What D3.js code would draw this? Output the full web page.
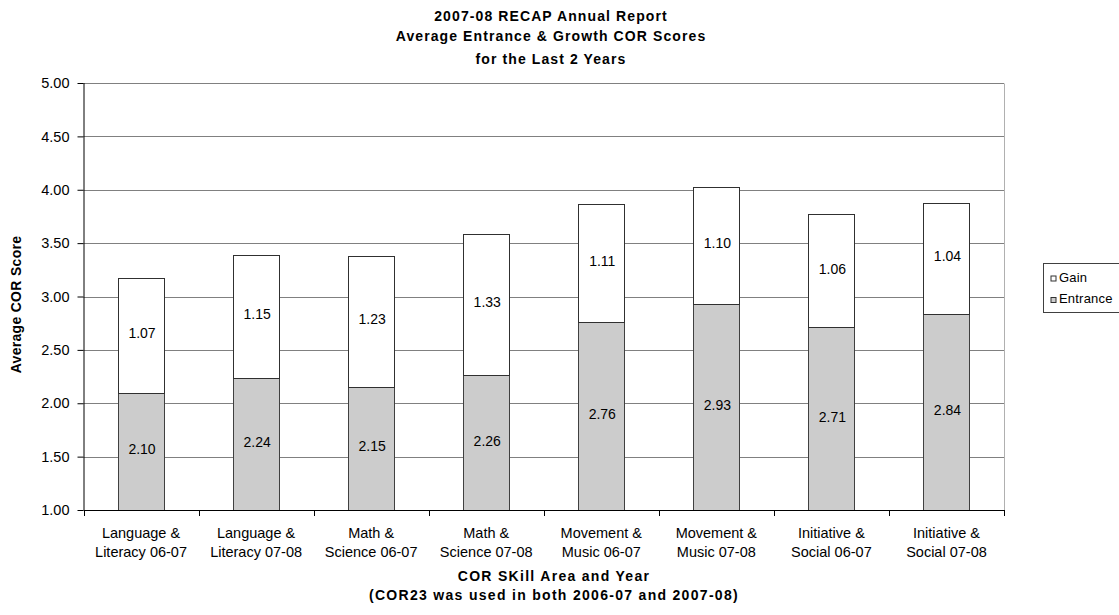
<!DOCTYPE html>
<html>
<head>
<meta charset="utf-8">
<script src="https://cdn.jsdelivr.net/npm/d3@7"></script>
<style>
  html, body { margin: 0; padding: 0; background: #fff; }
  svg { display: block; font-family: "Liberation Sans", Arial, sans-serif; }
</style>
</head>
<body>
<svg id="chart" width="1119" height="615"></svg>
<script>
// Skill areas by year, split into the two label lines shown under each bar
const categoryLine1 = ["Language &", "Language &", "Math &", "Math &", "Movement &", "Movement &", "Initiative &", "Initiative &"];
const categoryLine2 = ["Literacy 06-07", "Literacy 07-08", "Science 06-07", "Science 07-08", "Music 06-07", "Music 07-08", "Social 06-07", "Social 07-08"];
const entrance = [2.10, 2.24, 2.15, 2.26, 2.76, 2.93, 2.71, 2.84];
const gain = [1.07, 1.15, 1.23, 1.33, 1.11, 1.10, 1.06, 1.04];
const yTicks = [1.00, 1.50, 2.00, 2.50, 3.00, 3.50, 4.00, 4.50, 5.00];
const seriesNames = ["Gain", "Entrance"];
const titleLines = ["2007-08 RECAP Annual Report", "Average Entrance & Growth COR Scores", "for the Last 2 Years"];
const xTitleLines = ["COR SKill Area and Year", "(COR23 was used in both 2006-07 and 2007-08)"];
const yTitle = "Average COR Score";

const svg = d3.select("#chart");
const plot = { left: 83.5, right: 1004, top: 83, bottom: 510 };

const idx = d3.range(entrance.length);
const x = d3.scaleBand()
  .domain(idx)
  .range([plot.left, plot.right])
  .paddingInner(0.6)
  .paddingOuter(0.3);
const step = x.step();
const y = d3.scaleLinear().domain([1, 5]).range([plot.bottom, plot.top]);

const fillColor = { Gain: "#ffffff", Entrance: "#cccccc" };

// Horizontal gridlines
svg.append("g")
  .selectAll("line")
  .data(yTicks.slice(1))
  .join("line")
  .attr("x1", plot.left).attr("x2", plot.right)
  .attr("y1", d => Math.round(y(d)) + 0.5).attr("y2", d => Math.round(y(d)) + 0.5)
  .attr("stroke", "#808080").attr("stroke-width", 1);

// Right edge of the plot area
svg.append("line")
  .attr("x1", plot.right + 0.5).attr("x2", plot.right + 0.5)
  .attr("y1", Math.round(y(5)) + 0.5).attr("y2", plot.bottom)
  .attr("stroke", "#b0b0b0");

// Stacked bars: entrance from the axis floor, gain on top
const bars = svg.append("g");
bars.selectAll("rect.entrance")
  .data(idx)
  .join("rect")
  .attr("class", "entrance")
  .attr("x", i => Math.round(x(i)) + 0.5)
  .attr("width", Math.round(x.bandwidth()))
  .attr("y", i => Math.round(y(entrance[i])) + 0.5)
  .attr("height", i => Math.round(y(1)) - Math.round(y(entrance[i])))
  .attr("fill", fillColor.Entrance)
  .attr("stroke", "#404040");

bars.selectAll("rect.gain")
  .data(idx)
  .join("rect")
  .attr("class", "gain")
  .attr("x", i => Math.round(x(i)) + 0.5)
  .attr("width", Math.round(x.bandwidth()))
  .attr("y", i => Math.round(y(entrance[i] + gain[i])) + 0.5)
  .attr("height", i => Math.round(y(entrance[i])) - Math.round(y(entrance[i] + gain[i])))
  .attr("fill", fillColor.Gain)
  .attr("stroke", "#303030");

// Value labels in the middle of each segment
const labels = svg.append("g")
  .attr("font-size", 14)
  .attr("fill", "#000")
  .attr("text-anchor", "middle");
labels.selectAll("text.e")
  .data(idx)
  .join("text")
  .attr("x", i => x(i) + x.bandwidth() / 2 + 1)
  .attr("y", i => y((1 + entrance[i]) / 2))
  .attr("dy", "0.2em")
  .text(i => entrance[i].toFixed(2));
labels.selectAll("text.g")
  .data(idx)
  .join("text")
  .attr("x", i => x(i) + x.bandwidth() / 2 + 1)
  .attr("y", i => y(entrance[i] + gain[i] / 2))
  .attr("dy", "0.2em")
  .text(i => gain[i].toFixed(2));

// Y axis
const yAxis = svg.append("g")
  .attr("transform", `translate(${plot.left},0)`)
  .call(d3.axisLeft(y).tickValues(yTicks).tickFormat(d3.format(".2f")).tickSize(6).tickPadding(8));
yAxis.select(".domain").attr("stroke", "#000").attr("d", `M0.5,${plot.top}V${plot.bottom}`);
yAxis.selectAll(".tick line").attr("stroke", "#000");
yAxis.selectAll(".tick text")
  .attr("font-size", 14.5)
  .attr("font-family", "Liberation Sans, Arial, sans-serif")
  .attr("fill", "#000");

// X axis: boundary ticks between categories
const xAxisG = svg.append("g");
xAxisG.append("line")
  .attr("x1", plot.left).attr("x2", plot.right + 1)
  .attr("y1", plot.bottom + 0.5).attr("y2", plot.bottom + 0.5)
  .attr("stroke", "#000");
xAxisG.selectAll("line.tick")
  .data(d3.range(entrance.length + 1))
  .join("line")
  .attr("class", "tick")
  .attr("x1", i => Math.round(plot.left + i * step) + 0.5)
  .attr("x2", i => Math.round(plot.left + i * step) + 0.5)
  .attr("y1", plot.bottom).attr("y2", plot.bottom + 6)
  .attr("stroke", "#000");

const catLabels = xAxisG.selectAll("text.cat")
  .data(idx)
  .join("text")
  .attr("class", "cat")
  .attr("text-anchor", "middle")
  .attr("font-size", 14.5)
  .attr("fill", "#000");
catLabels.append("tspan")
  .attr("x", i => x(i) + x.bandwidth() / 2)
  .attr("y", 538)
  .text(i => categoryLine1[i]);
catLabels.append("tspan")
  .attr("x", i => x(i) + x.bandwidth() / 2)
  .attr("y", 557)
  .text(i => categoryLine2[i]);

// Chart title
svg.append("g")
  .attr("text-anchor", "middle")
  .attr("font-weight", "bold")
  .attr("font-size", 14)
  .attr("letter-spacing", "1.1px")
  .selectAll("text")
  .data(titleLines)
  .join("text")
  .attr("x", 551)
  .attr("y", (d, i) => [21, 41, 64][i])
  .text(d => d);

// X axis title
svg.append("g")
  .attr("text-anchor", "middle")
  .attr("font-weight", "bold")
  .attr("font-size", 14)
  .attr("letter-spacing", "1.3px")
  .selectAll("text")
  .data(xTitleLines)
  .join("text")
  .attr("x", 554)
  .attr("y", (d, i) => [581, 600][i])
  .text(d => d);

// Y axis title
svg.append("text")
  .attr("transform", `translate(21,${(plot.top + plot.bottom) / 2 + 8}) rotate(-90)`)
  .attr("text-anchor", "middle")
  .attr("font-weight", "bold")
  .attr("font-size", 14)
  .attr("letter-spacing", "0.3px")
  .text(yTitle);

// Legend
const legend = svg.append("g").attr("transform", "translate(1043.5,263.5)");
legend.append("rect")
  .attr("width", 90).attr("height", 49)
  .attr("fill", "#fff").attr("stroke", "#404040");
const items = legend.selectAll("g.item")
  .data(seriesNames)
  .join("g")
  .attr("class", "item")
  .attr("transform", (d, i) => `translate(7.5,${12.5 + i * 21.5})`);
items.append("rect")
  .attr("width", 5).attr("height", 5)
  .attr("fill", d => fillColor[d])
  .attr("stroke", "#303030");
items.append("text")
  .attr("x", 8).attr("y", 5.5)
  .attr("font-size", 13)
  .attr("letter-spacing", "0.2px")
  .text(d => d);
</script>
</body>
</html>
